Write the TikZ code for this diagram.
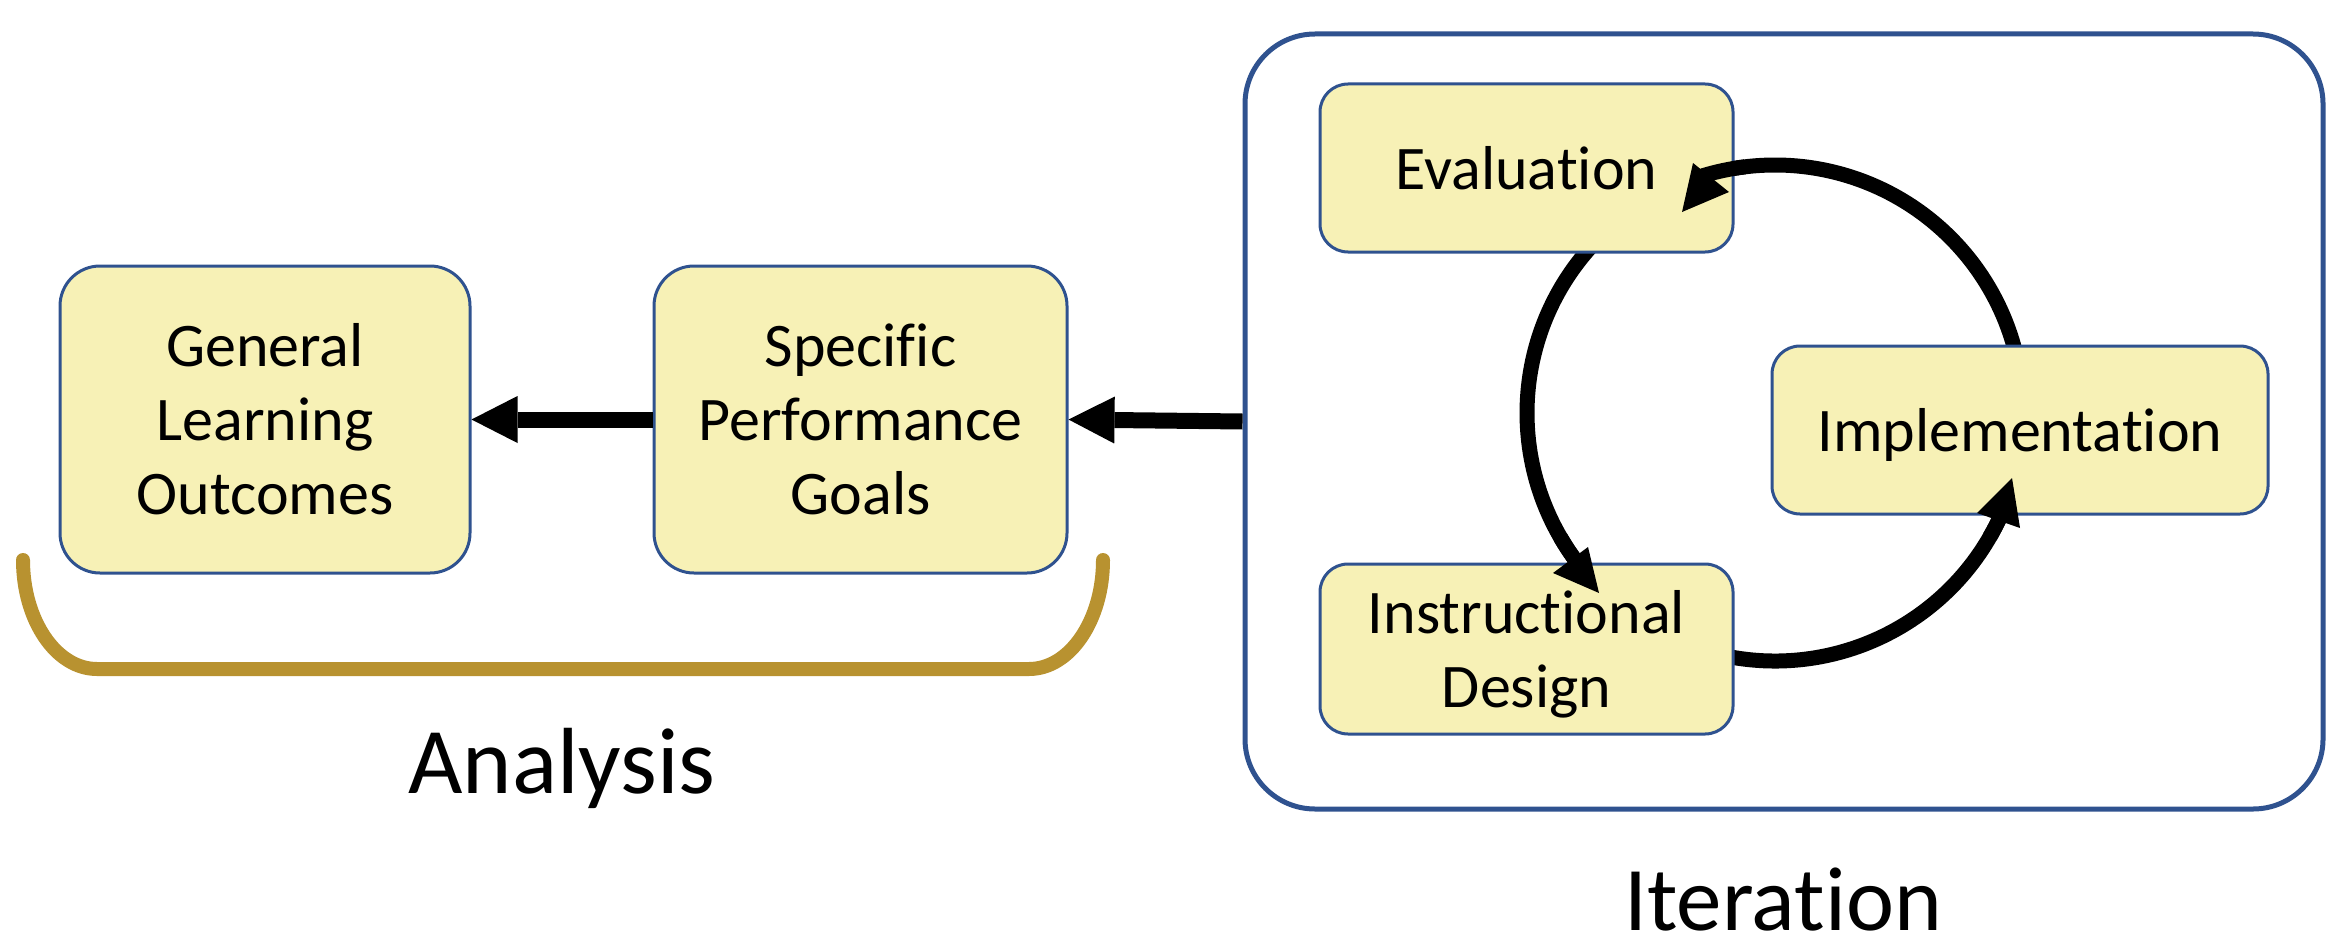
\documentclass[tikz,border=0pt]{standalone}
\usepackage{fontspec}
\setmainfont{Carlito}[Ligatures=CommonOff]
\usetikzlibrary{arrows.meta,calc}
\definecolor{boxfill}{HTML}{F7F1B6}
\definecolor{boxline}{HTML}{2F528F}
\definecolor{brack}{HTML}{B89230}
\newcommand\dgboxfont{\fontsize{31pt}{37pt}\selectfont}
\begin{document}
\begin{tikzpicture}[x=0.5pt,y=-0.5pt,
  stepbox/.style={draw=boxline, fill=boxfill, line width=1.5pt, rounded corners=14pt,
    inner sep=0pt, align=center, font=\dgboxfont},
  bigbox/.style={stepbox, rounded corners=20pt, minimum width=205pt, minimum height=153.5pt},
  smallbox/.style={stepbox, minimum width=206.5pt, minimum height=84pt},
  frame/.style={draw=boxline, line width=2.5pt, rounded corners=35pt,
    minimum width=539pt, minimum height=387.5pt, inner sep=0pt},
  flowarrow/.style={line width=8pt, -{Triangle[length=23pt,width=23.5pt,line width=0pt]}},
  cyclearc/.style={line width=7.5pt},
  headfill/.style={fill=black},
  bracket/.style={draw=brack, line width=7pt, line cap=round},
  biglabel/.style={anchor=base, inner sep=0pt}
]
\useasboundingbox (0,0) rectangle (2348,947);
% iteration frame
\node[frame] (iter) at (1784,421.5) {};
% cycle arcs (their starts are hidden under the boxes)
\coordinate (cc) at (1775,413);
\draw[cyclearc] ($(cc)+(-12:248)$) arc[start angle=-12, end angle=-107, radius=248];
\draw[cyclearc] ($(cc)+(225:248)$) arc[start angle=225, end angle=142, radius=248];
\draw[cyclearc] ($(cc)+(103:248)$) arc[start angle=103, end angle=23, radius=248];
% boxes
\node[bigbox] (gen) at (265,419.5) {General\\Learning\\Outcomes};
\node[bigbox, minimum width=206.5pt] (spec) at (860.5,419.5) {Specific\\Performance\\Goals};
\node[smallbox] (eval) at (1526.5,168) {Evaluation};
\node[smallbox, minimum width=248pt, text depth=0pt] (impl) at (2020,430) {Implementation};
\node[smallbox, minimum height=85pt, text depth=0pt] (id) at (1526.5,649) {Instructional\\Design};
% arc ends that lie over the boxes
\draw[cyclearc] ($(cc)+(-97:248)$) arc[start angle=-97, end angle=-107, radius=248];
\draw[cyclearc] ($(cc)+(150:248)$) arc[start angle=150, end angle=142, radius=248];
\draw[cyclearc] ($(cc)+(30:248)$) arc[start angle=30, end angle=23, radius=248];
% arrowheads of the cycle
\fill[headfill] (1682,212) -- (1729,192) -- (1693,163) -- cycle;
\fill[headfill] (1599,593) -- (1553,573) -- (1588,547) -- cycle;
\fill[headfill] (2012,478) -- (1977,513) -- (2020,528) -- cycle;
% flow arrows
\draw[flowarrow] (iter.west) -- (spec.east);
\draw[flowarrow] (spec.west) -- (gen.east);
% analysis bracket
\draw[bracket] (23,560) .. controls (23,620) and (56,669) .. (97,669) -- (1029,669)
  .. controls (1070,669) and (1103,620) .. (1103,560);
% labels
\node[biglabel, font=\fontsize{47pt}{56pt}\selectfont] (analysis) at (562,793) {Analysis};
\node[biglabel, font=\fontsize{45.5pt}{55pt}\selectfont] (iteration) at (1783,930) {Iteration};
\end{tikzpicture}
\end{document}
